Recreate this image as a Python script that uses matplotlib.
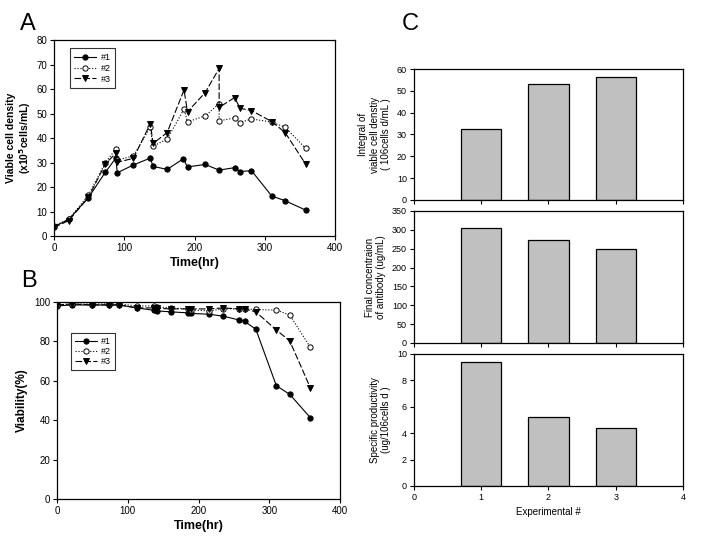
import numpy as np
import matplotlib
matplotlib.use('Agg')
import matplotlib.pyplot as plt

plt.rcParams['font.family'] = ['Liberation Sans', 'DejaVu Sans']

# Panel A - viable cell density (x10^5 cells/mL)
t1 = [0, 21, 49, 73, 88, 90, 113, 137, 141, 161, 184, 190, 215, 235, 257, 265, 281, 310, 329, 358]
v1 = [3.8, 6.8, 15.7, 26.0, 31.8, 25.8, 29.0, 31.8, 28.4, 27.2, 31.5, 28.2, 29.2, 26.9, 27.9, 26.3, 26.7, 16.3, 14.4, 10.6]
t2 = [0, 21, 49, 73, 88, 90, 113, 137, 141, 161, 185, 190, 215, 235, 235, 257, 265, 281, 310, 329, 358]
v2 = [4.2, 6.8, 16.7, 29.9, 35.5, 31.0, 32.7, 44.4, 36.7, 39.5, 51.8, 46.6, 49.0, 54.0, 47.0, 48.2, 46.3, 47.8, 46.5, 44.4, 35.8]
t3 = [0, 21, 49, 73, 88, 90, 113, 137, 141, 161, 185, 190, 215, 235, 235, 257, 265, 281, 310, 329, 358]
v3 = [3.5, 6.3, 15.8, 29.4, 33.8, 30.1, 31.7, 45.8, 37.8, 42.2, 59.6, 50.7, 58.5, 68.4, 52.5, 56.5, 52.1, 51.2, 46.7, 42.2, 29.4]

# Panel B - viability (%)
tB = [0, 21, 49, 73, 88, 113, 137, 141, 161, 185, 190, 215, 235, 257, 265, 281, 310, 329, 358]
vB1 = [98.0, 98.5, 98.5, 98.5, 98.5, 97.0, 95.8, 95.5, 95.0, 94.5, 94.2, 93.8, 92.8, 90.9, 90.2, 86.2, 57.5, 53.1, 41.3]
vB2 = [98.5, 99.0, 99.0, 99.0, 99.0, 98.0, 98.0, 97.5, 97.0, 96.5, 96.0, 95.5, 96.5, 96.5, 96.5, 96.2, 95.9, 93.4, 77.0]
vB3 = [98.5, 99.0, 98.5, 98.5, 98.5, 97.0, 97.0, 96.8, 96.5, 96.5, 96.5, 96.5, 97.0, 96.5, 96.5, 95.0, 85.8, 80.2, 56.5]

# Panel C - bars per experiment
exps = [1, 2, 3]
ivcd = [32.7, 53.2, 56.3]
final_conc = [305, 273, 249]
spec_prod = [9.4, 5.2, 4.4]

labels = ['#1', '#2', '#3']
styles = [dict(color='black', ls='-', marker='o', mfc='black'),
          dict(color='black', ls=':', marker='o', mfc='white'),
          dict(color='black', ls=(0, (6, 2)), marker='v', mfc='black')]

fig = plt.figure(figsize=(7.1, 5.37), dpi=100)


def style_ax(ax, fs=7):
    ax.tick_params(direction='out', length=3, width=0.8, labelsize=fs,
                   top=False, right=False, pad=2)
    for s in ax.spines.values():
        s.set_linewidth(0.9)


# A
axA = fig.add_axes([0.0761, 0.5605, 0.3958, 0.365])
for t, v, lab, st in zip([t1, t2, t3], [v1, v2, v3], labels, styles):
    axA.plot(t, v, lw=0.8, ms=3.8, mec='black', mew=0.7, label=lab, **st)
axA.set_xlim(0, 400)
axA.set_ylim(0, 80)
axA.set_xticks(np.arange(0, 401, 100))
axA.set_yticks(np.arange(0, 81, 10))
axA.set_xlabel('Time(hr)', fontsize=9, fontweight='bold', labelpad=3)
axA.set_ylabel('Viable cell density\n(x10$^{\\mathbf{5}}$cells/mL)', fontsize=7.5,
               fontweight='bold', labelpad=2, linespacing=1.1)
style_ax(axA)
leg = axA.legend(loc='upper left', bbox_to_anchor=(0.04, 0.98), fontsize=6.5,
                 frameon=True, fancybox=False, edgecolor='black', handlelength=2.4,
                 borderpad=0.5, labelspacing=0.2, handletextpad=0.5)
leg.get_frame().set_linewidth(0.8)

# B
axB = fig.add_axes([0.0803, 0.0708, 0.3986, 0.3668])
for v, lab, st in zip([vB1, vB2, vB3], labels, styles):
    axB.plot(tB, v, lw=0.8, ms=3.8, mec='black', mew=0.7, label=lab, **st)
axB.set_xlim(0, 400)
axB.set_ylim(0, 100)
axB.set_xticks(np.arange(0, 401, 100))
axB.set_yticks(np.arange(0, 101, 20))
axB.set_xlabel('Time(hr)', fontsize=9, fontweight='bold', labelpad=3)
axB.set_ylabel('Viability(%)', fontsize=8.5, fontweight='bold', labelpad=4)
style_ax(axB)
leg = axB.legend(loc='upper left', bbox_to_anchor=(0.035, 0.865), fontsize=6.5,
                 frameon=True, fancybox=False, edgecolor='black', handlelength=2.4,
                 borderpad=0.4, labelspacing=0.15, handletextpad=0.5)
leg.get_frame().set_linewidth(0.8)

# C
c_left, c_w = 0.583, 0.379
axC1 = fig.add_axes([c_left, 0.6276, c_w, 0.2439])
axC2 = fig.add_axes([c_left, 0.3613, c_w, 0.2458])
axC3 = fig.add_axes([c_left, 0.095, c_w, 0.2458])
bar_kw = dict(width=0.6, color='#c0c0c0', edgecolor='black', linewidth=0.9)

axC1.bar(exps, ivcd, **bar_kw)
axC1.set_ylim(0, 60)
axC1.set_yticks(np.arange(0, 61, 10))
axC1.set_ylabel('Integral of\nviable cell denstiy\n( 106cells d/mL )', fontsize=7, labelpad=4)

axC2.bar(exps, final_conc, **bar_kw)
axC2.set_ylim(0, 350)
axC2.set_yticks(np.arange(0, 351, 50))
axC2.set_ylabel('Final concentraion\nof antibody (ug/mL)', fontsize=7, labelpad=4)

axC3.bar(exps, spec_prod, **bar_kw)
axC3.set_ylim(0, 10)
axC3.set_yticks(np.arange(0, 11, 2))
axC3.set_ylabel('Specific productivity\n(ug/106cells d )', fontsize=7, labelpad=4)
axC3.set_xlabel('Experimental #', fontsize=7, labelpad=4)

for ax in (axC1, axC2, axC3):
    ax.set_xlim(0, 4)
    ax.set_xticks(np.arange(0, 5, 1))
    style_ax(ax, fs=6.5)
for ax in (axC1, axC2):
    ax.set_xticklabels([])

fig.text(0.028, 0.945, 'A', fontsize=17)
fig.text(0.030, 0.465, 'B', fontsize=17)
fig.text(0.566, 0.945, 'C', fontsize=17)

fig.savefig('out.png', dpi=100)
